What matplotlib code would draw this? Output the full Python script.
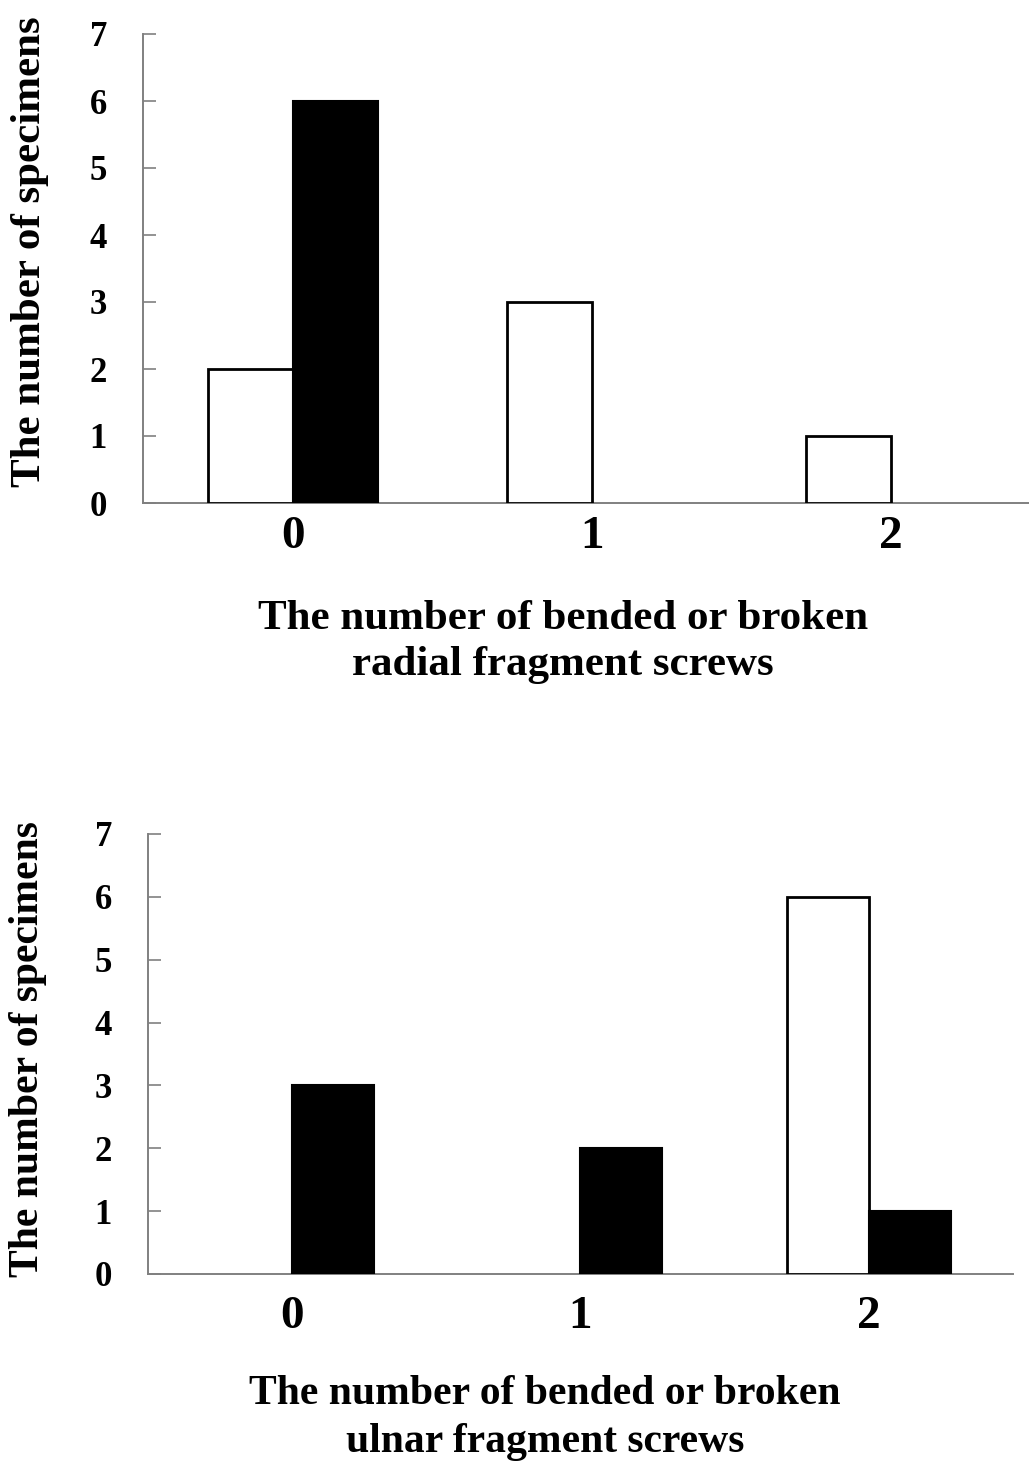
import numpy as np
import matplotlib
matplotlib.use("Agg")
import matplotlib.pyplot as plt

plt.rcParams['font.family'] = ['Liberation Serif', 'DejaVu Serif']
plt.rcParams['font.weight'] = 'bold'

categories = ['0', '1', '2']
ylabel = 'The number of specimens'

# radial fragment screws
radial_white = [2, 3, 1]
radial_black = [6, 0, 0]
radial_xlabel = 'The number of bended or broken\nradial fragment screws'

# ulnar fragment screws
ulnar_white = [0, 0, 6]
ulnar_black = [3, 2, 1]
ulnar_xlabel = 'The number of bended or broken\nulnar fragment screws'

W, H = 1029, 1465
fig = plt.figure(figsize=(W / 100, H / 100), dpi=100)

ax_top = fig.add_axes([143 / W, 1 - 503 / H, (W - 143) / W, (503 - 34) / H])
ax_bot = fig.add_axes([148 / W, 1 - 1274 / H, (1013 - 148) / W, (1274 - 834) / H])


def draw(ax, white, black, xmax, xpad):
    x = np.arange(len(categories))
    w = 0.284
    ec_w = ['black' if v > 0 else 'none' for v in white]
    ec_b = ['black' if v > 0 else 'none' for v in black]
    ax.bar(x - w / 2, white, w, color='white', edgecolor=ec_w, linewidth=2.0, zorder=3)
    ax.bar(x + w / 2, black, w, color='black', edgecolor=ec_b, linewidth=1.5, zorder=3)
    ax.set_xlim(-0.5, xmax)
    ax.set_ylim(0, 7)
    ax.set_yticks(range(8))
    ax.set_xticks(x)
    ax.set_xticklabels(categories)
    for s in ['top', 'right']:
        ax.spines[s].set_visible(False)
    for s in ['left', 'bottom']:
        ax.spines[s].set_color('#808080')
        ax.spines[s].set_linewidth(1.4)
    ax.tick_params(axis='y', direction='in', length=9, width=1.2, color='#808080',
                   pad=26, labelsize=25)
    ax.tick_params(axis='x', length=0, pad=xpad, labelsize=34)
    for lab in ax.get_xticklabels() + ax.get_yticklabels():
        lab.set_fontweight('bold')


draw(ax_top, radial_white, radial_black, 2.46, 9)
draw(ax_bot, ulnar_white, ulnar_black, 2.5, 16)

fig.text(563 / W, 1 - 642 / H, radial_xlabel, ha='center', va='center',
         fontsize=31, fontweight='bold', linespacing=1.3)
fig.text(545 / W, 1 - 1418 / H, ulnar_xlabel, ha='center', va='center',
         fontsize=30, fontweight='bold', linespacing=1.35)
fig.text(30 / W, 1 - 252 / H, ylabel, ha='center', va='center', rotation=90,
         fontsize=31, fontweight='bold')
fig.text(28 / W, 1 - 1049 / H, ylabel, ha='center', va='center', rotation=90,
         fontsize=30, fontweight='bold')

fig.savefig('out.png', dpi=100)
